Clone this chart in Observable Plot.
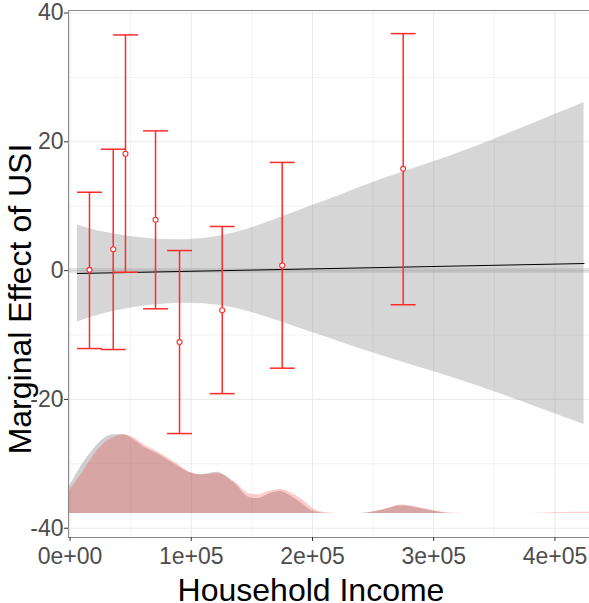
<!DOCTYPE html>
<html>
<head>
<meta charset="utf-8">
<script src="https://cdn.jsdelivr.net/npm/d3@7"></script>
<script src="https://cdn.jsdelivr.net/npm/@observablehq/plot@0.6"></script>
<style>
  body { margin: 0; background: #fff; }
  svg { display: block; }
</style>
</head>
<body>
<div id="chart"></div>
<script>
// Binned marginal effects of USI (point estimate and 95% interval per income bin)
const binIncome = [16000, 35600, 45700, 70500, 90300, 125500, 175000, 274800];
const binEffect = [0.12, 3.32, 18.14, 7.89, -11.1, -6.15, 0.79, 15.8];
const binLower  = [-12.1, -12.25, -0.25, -5.93, -25.3, -19.1, -15.15, -5.3];
const binUpper  = [12.17, 18.85, 36.6, 21.7, 3.12, 6.85, 16.8, 36.8];

// Linear marginal effect and its confidence band
const lineIncome = [6000, 424000];
const lineEffect = [-0.45, 1.1];
const bandIncome = [6000, 30000, 60000, 85000, 110000, 135000, 160000, 190000, 220000, 250000, 300000, 350000, 424000];
const bandUpper  = [7.1, 5.9, 5.05, 4.8, 5.0, 5.85, 7.3, 9.4, 11.5, 13.7, 16.9, 20.4, 26.1];
const bandLower  = [-8.0, -6.6, -5.55, -5.1, -5.15, -5.8, -7.1, -9.0, -10.9, -12.8, -15.7, -18.8, -23.9];

// Distribution of household income (control in grey, treated in red), drawn along the bottom
const densIncome  = [-1300, 8700, 19600, 27900, 36100, 44400, 52000, 60900, 74700, 88400, 99400, 107700, 121400, 135100, 148900, 155500, 164000, 173700, 182000, 190200, 200900, 212400, 223000, 239700, 256200, 274100, 293300, 313900, 324600, 379900, 404600, 428600];
const densControl = [-33.9, -30.5, -27.7, -26.1, -25.5, -25.5, -26.2, -27.4, -28.7, -30.3, -31.4, -31.7, -31.3, -32.9, -35.3, -35.4, -34.7, -34.3, -35.0, -36.0, -37.4, -37.7, -37.7, -37.7, -37.25, -36.5, -37.1, -37.7, -37.7, -37.7, -37.7, -37.7];
const densTreated = [-34.4, -31.8, -28.7, -26.9, -25.9, -25.5, -25.9, -27.0, -28.4, -30.0, -31.4, -31.7, -31.5, -32.7, -34.7, -34.8, -34.3, -34.0, -34.5, -35.4, -37.0, -37.6, -37.7, -37.7, -37.2, -36.4, -37.0, -37.65, -37.7, -37.7, -37.55, -37.5];
const densBase = -37.7;

// Axis ticks
const xTicks = [0, 100000, 200000, 300000, 400000];
const xTickLabels = ["0e+00", "1e+05", "2e+05", "3e+05", "4e+05"];
const xMinor = [50000, 150000, 250000, 350000];
const yTicks = [-40, -20, 0, 20, 40];
const yTickLabels = ["-40", "-20", "0", "20", "40"];
const yMinor = [-30, -10, 10, 30];

const xDomain = [-1300, 428500];
const yDomain = [-41.44, 40.39];
const capHalf = 10300; // half width of the error-bar caps, in income units

const bins = binIncome.map((x, i) => ({x, y: binEffect[i], lo: binLower[i], hi: binUpper[i]}));
const band = bandIncome.map((x, i) => ({x, lo: bandLower[i], hi: bandUpper[i]}));
const line = lineIncome.map((x, i) => ({x, y: lineEffect[i]}));
const dens = densIncome.map((x, i) => ({x, c: densControl[i], t: densTreated[i]}));

const font = "'Liberation Sans', Arial, Helvetica, sans-serif";
const axisGrey = "#8a8a8a";
const barRed = "#ff2b2b";

const chart = Plot.plot({
  width: 589,
  height: 603,
  marginLeft: 68,
  marginRight: 0,
  marginTop: 10,
  marginBottom: 66,
  style: {fontFamily: font, background: "white"},
  x: {domain: xDomain},
  y: {domain: yDomain},
  marks: [
    // grid
    Plot.ruleX(xMinor, {stroke: "#f2f2f2", strokeWidth: 1}),
    Plot.ruleY(yMinor, {stroke: "#f2f2f2", strokeWidth: 1}),
    Plot.ruleX(xTicks, {stroke: "#ebebeb", strokeWidth: 1.1}),
    Plot.ruleY(yTicks, {stroke: "#ebebeb", strokeWidth: 1.1}),
    // income distributions
    Plot.areaY(dens, {x: "x", y1: () => densBase, y2: "c", fill: "#7f7f7f", fillOpacity: 0.375, curve: "monotone-x", clip: true}),
    Plot.areaY(dens, {x: "x", y1: () => densBase, y2: "t", fill: "red", fillOpacity: 0.2, curve: "monotone-x", clip: true}),
    // zero reference
    Plot.ruleY([0], {stroke: "#7f7f7f", strokeOpacity: 0.2, strokeWidth: 5}),
    // linear marginal effect with confidence band
    Plot.areaY(band, {x: "x", y1: "lo", y2: "hi", fill: "#7f7f7f", fillOpacity: 0.32, curve: "natural"}),
    Plot.line(line, {x: "x", y: "y", stroke: "black", strokeWidth: 1}),
    // binned estimates: whiskers, caps and points
    Plot.link(bins, {x1: "x", x2: "x", y1: "lo", y2: "hi", stroke: barRed, strokeWidth: 1.5}),
    Plot.link(bins, {y1: "hi", y2: "hi", x1: d => d.x - capHalf, x2: d => d.x + capHalf, stroke: barRed, strokeWidth: 1.5}),
    Plot.link(bins, {y1: "lo", y2: "lo", x1: d => d.x - capHalf, x2: d => d.x + capHalf, stroke: barRed, strokeWidth: 1.5}),
    Plot.dot(bins, {x: "x", y: "y", r: 2.5, fill: "white", stroke: barRed, strokeWidth: 1.1}),
    // panel border (left, top, bottom)
    Plot.ruleX([xDomain[0]], {stroke: axisGrey, strokeWidth: 1.1}),
    Plot.ruleY([yDomain[1]], {stroke: axisGrey, strokeWidth: 1.1}),
    Plot.ruleY([yDomain[0]], {stroke: axisGrey, strokeWidth: 1.1}),
    // axes
    Plot.axisX({
      ticks: xTicks,
      tickFormat: d => xTickLabels[xTicks.indexOf(d)],
      tickSize: 4,
      tickPadding: 6,
      fontSize: 23,
      stroke: "#333",
      fill: "#4d4d4d",
      label: null
    }),
    Plot.axisY({
      ticks: yTicks,
      tickFormat: d => yTickLabels[yTicks.indexOf(d)],
      tickSize: 4,
      tickPadding: 1,
      fontSize: 23,
      stroke: "#333",
      fill: "#4d4d4d",
      label: null
    })
  ]
});

document.getElementById("chart").appendChild(chart);

// axis titles
const svg = d3.select(chart);
svg.append("text")
  .attr("x", 311)
  .attr("y", 601)
  .attr("text-anchor", "middle")
  .attr("font-family", font)
  .attr("font-size", 32)
  .attr("fill", "black")
  .text("Household Income");
svg.append("text")
  .attr("transform", "translate(31,299) rotate(-90)")
  .attr("text-anchor", "middle")
  .attr("font-family", font)
  .attr("font-size", 32)
  .attr("fill", "black")
  .text("Marginal Effect of USI");
</script>
</body>
</html>
